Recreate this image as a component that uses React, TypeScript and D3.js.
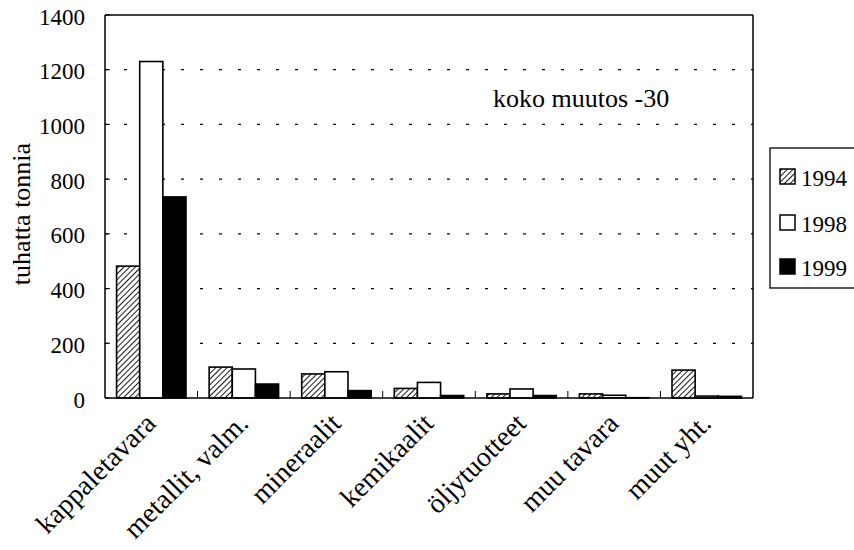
import React from 'react';
import * as d3 from 'd3';

const categories = ['kappaletavara', 'metallit, valm.', 'mineraalit', 'kemikaalit', 'öljytuotteet', 'muu tavara', 'muut yht.'];
const years = ['1994', '1998', '1999'];
const v1994 = [482, 113, 88, 35, 15, 15, 102];
const v1998 = [1230, 106, 96, 57, 33, 10, 7];
const v1999 = [735, 51, 27, 9, 9, 1, 6];
const yTicks = [0, 200, 400, 600, 800, 1000, 1200, 1400];
const gridValues = [200, 400, 600, 800, 1000, 1200];
const annotation = 'koko muutos -30';
const yLabel = 'tuhatta tonnia';

const seriesValues = [v1994, v1998, v1999];
const fills = ['url(#hatch)', '#ffffff', '#000000'];
const FONT = "'Liberation Serif', 'DejaVu Serif', serif";

export default function App() {
  const left = 105, right = 753, top = 15, bottom = 398;
  const x = d3.scaleBand<string>().domain(categories).range([left, right]).paddingInner(0).paddingOuter(0);
  const xs = d3.scaleBand<string>().domain(years).range([0, x.bandwidth()]).paddingInner(0).paddingOuter(0.5);
  const y = d3.scaleLinear().domain([0, 1400]).range([bottom, top]);

  const legendRows = [177, 223, 267];

  return (
    <svg width={854} height={550} style={{ position: 'absolute', left: 0, top: 0, background: '#fff' }} fontFamily={FONT}>
      <defs>
        <pattern id="hatch" patternUnits="userSpaceOnUse" width={4} height={4} patternTransform="rotate(45)">
          <rect width={4} height={4} fill="#fff" />
          <line x1={0} y1={0} x2={0} y2={4} stroke="#000" strokeWidth={1.8} />
        </pattern>
      </defs>
      <rect x={0} y={0} width={854} height={550} fill="#fff" />

      {gridValues.map((g) => (
        <line key={g} x1={left} x2={right} y1={y(g)} y2={y(g)} stroke="#000" strokeWidth={1.3} strokeDasharray="3,16" />
      ))}

      {categories.map((c, i) => (
        <g key={c}>
          {years.map((yr, j) => {
            const v = seriesValues[j][i];
            const bx = (x(c) as number) + (xs(yr) as number);
            return (
              <rect key={yr} x={bx} y={y(v)} width={xs.bandwidth()} height={Math.max(0, bottom - y(v))}
                fill={fills[j]} stroke="#000" strokeWidth={1.6} />
            );
          })}
        </g>
      ))}

      <line x1={left} x2={right} y1={top} y2={top} stroke="#000" strokeWidth={1.5} />
      <line x1={right} x2={right} y1={top} y2={bottom} stroke="#000" strokeWidth={1.5} />
      <line x1={left} x2={left} y1={top} y2={bottom} stroke="#000" strokeWidth={1.5} />
      <line x1={left} x2={right} y1={bottom} y2={bottom} stroke="#000" strokeWidth={1.5} />

      {yTicks.map((t) => (
        <g key={t}>
          <line x1={left} x2={left + 5} y1={y(t)} y2={y(t)} stroke="#000" strokeWidth={1} />
          <text x={85} y={y(t) + 2} textAnchor="end" dominantBaseline="central" fontSize={23} fill="#000">{t}</text>
        </g>
      ))}

      {categories.slice(1).map((c) => (
        <line key={c} x1={x(c) as number} x2={x(c) as number} y1={bottom} y2={bottom - 7} stroke="#000" strokeWidth={1} />
      ))}

      {categories.map((c) => {
        const cx = (x(c) as number) + x.bandwidth() / 2 + 6;
        return (
          <text key={c} transform={`translate(${cx},${425}) rotate(-45)`} textAnchor="end" fontSize={28} fill="#000">{c}</text>
        );
      })}

      <text transform={`translate(30,${214}) rotate(-90)`} textAnchor="middle" fontSize={26} fill="#000">{yLabel}</text>

      <text x={493} y={107} fontSize={26} fill="#000">{annotation}</text>

      <rect x={770} y={148} width={100} height={140} fill="#fff" stroke="#000" strokeWidth={1.3} />
      {years.map((yr, j) => (
        <g key={yr}>
          <rect x={780} y={legendRows[j] - 8} width={15} height={15} fill={fills[j]} stroke="#000" strokeWidth={1.5} />
          <text x={801} y={legendRows[j] + 1} dominantBaseline="central" fontSize={23} fill="#000">{yr}</text>
        </g>
      ))}
    </svg>
  );
}
